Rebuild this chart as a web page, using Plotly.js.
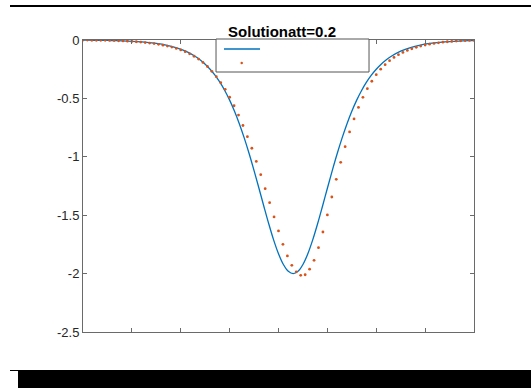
<!DOCTYPE html>
<html>
<head>
<meta charset="utf-8">
<script src="https://cdn.plot.ly/plotly-3.0.1.min.js"></script>
<style>
body{margin:0;background:#fff}
#wrap{position:relative;width:531px;height:388px;overflow:hidden}
.bar{position:absolute;background:#000}
</style>
</head>
<body>
<div id="wrap">
<div id="chart" style="width:531px;height:388px"></div>
<div class="bar" style="left:10px;top:5px;width:521px;height:2px"></div>
<div class="bar" style="left:10px;top:370px;width:521px;height:1px"></div>
<div class="bar" style="left:18px;top:371px;width:513px;height:17px"></div>
</div>
<script>
// exact solution (solid blue line)
const exactX = [0,0.1,0.3,0.5,0.7,0.9,1.1,1.3,1.5,1.7,1.9,2.1,2.3,2.4,2.5,2.6,2.7,2.8,2.9,3.0,3.1,3.2,3.3,3.4,3.5,3.6,3.7,3.8,3.9,4.0,4.1,4.2,4.3,4.4,4.5,4.6,4.7,4.8,4.9,5.0,5.1,5.2,5.3,5.4,5.5,5.6,5.7,5.8,5.9,6.0,6.1,6.2,6.3,6.5,6.7,6.9,7.1,7.3,7.5,7.7,7.9,8.0];
const exactY = [-0.0015,-0.0018,-0.0027,-0.0040,-0.0060,-0.0089,-0.0132,-0.0197,-0.0294,-0.0436,-0.0648,-0.0959,-0.1413,-0.1712,-0.2071,-0.2500,-0.3011,-0.3614,-0.4323,-0.5149,-0.6100,-0.7184,-0.8399,-0.9738,-1.1181,-1.2695,-1.4232,-1.5729,-1.7113,-1.8303,-1.9221,-1.9801,-2.0,-1.9801,-1.9221,-1.8303,-1.7113,-1.5729,-1.4232,-1.2695,-1.1181,-0.9738,-0.8399,-0.7184,-0.6100,-0.5149,-0.4323,-0.3614,-0.3011,-0.2500,-0.2071,-0.1712,-0.1413,-0.0959,-0.0648,-0.0436,-0.0294,-0.0197,-0.0132,-0.0089,-0.0060,-0.0049];

// numerical solution (orange dots)
const numX = [0,0.0909,0.1818,0.2727,0.3636,0.4545,0.5455,0.6364,0.7273,0.8182,0.9091,
1,1.0909,1.1818,1.2727,1.3636,1.4545,1.5455,1.6364,1.7273,1.8182,1.9091,
2,2.0909,2.1818,2.2727,2.3636,2.4545,2.5455,2.6364,2.7273,2.8182,2.9091,
3,3.0909,3.1818,3.2727,3.3636,3.4545,3.5455,3.6364,3.7273,3.8182,3.9091,
4,4.0909,4.1818,4.2727,4.3636,4.4545,4.5455,4.6364,4.7273,4.8182,4.9091,
5,5.0909,5.1818,5.2727,5.3636,5.4545,5.5455,5.6364,5.7273,5.8182,5.9091,
6,6.0909,6.1818,6.2727,6.3636,6.4545,6.5455,6.6364,6.7273,6.8182,6.9091,
7,7.0909,7.1818,7.2727,7.3636,7.4545,7.5455,7.6364,7.7273,7.8182,7.9091,
8];
const numY = [-0.001,-0.001,-0.002,-0.002,-0.003,-0.003,-0.004,-0.005,-0.007,-0.008,-0.010,
-0.012,-0.015,-0.018,-0.022,-0.026,-0.031,-0.037,-0.044,-0.052,-0.061,-0.072,
-0.085,-0.100,-0.118,-0.139,-0.163,-0.192,-0.227,-0.268,-0.314,-0.365,-0.422,
-0.490,-0.563,-0.643,-0.732,-0.828,-0.927,-1.040,-1.153,-1.273,-1.393,-1.515,
-1.635,-1.749,-1.849,-1.929,-1.985,-2.015,-2.010,-1.962,-1.886,-1.778,-1.644,
-1.498,-1.344,-1.193,-1.047,-0.913,-0.787,-0.676,-0.577,-0.491,-0.417,-0.353,
-0.297,-0.250,-0.211,-0.177,-0.149,-0.126,-0.106,-0.089,-0.075,-0.063,-0.052,
-0.043,-0.036,-0.029,-0.024,-0.019,-0.015,-0.012,-0.009,-0.007,-0.005,-0.004,
-0.003];

const xTicks = [0,1,2,3,4,5,6,7,8];
const yTicks = [0,-0.5,-1,-1.5,-2,-2.5];
const yTickText = ['0','-0.5','-1','-1.5','-2','-2.5'];
const titleText = 'Solutionatt=0.2';

const blue = '#0072BD', red = '#D95319', axc = '#6a6a6a';

const traces = [
  {x: exactX, y: exactY, type:'scatter', mode:'lines', line:{color:blue, width:1.3, shape:'spline'}, hoverinfo:'skip'},
  {x: numX, y: numY, type:'scatter', mode:'markers', marker:{color:red, size:2.8, line:{width:0}}, hoverinfo:'skip'}
];

// legend box geometry (paper coords)
const L = {x0:0.3402, x1:0.7315, y0:0.8904, y1:1.0034};
const layout = {
  width:531, height:388,
  margin:{l:83, r:57, t:40, b:56},
  paper_bgcolor:'#fff', plot_bgcolor:'#fff',
  showlegend:false,
  font:{family:'Liberation Sans, Arial, sans-serif', size:13, color:'#262626'},
  title:{text:titleText, font:{family:'Liberation Sans, Arial, sans-serif', size:15, color:'#000', weight:'bold'},
         x:0.509, xref:'paper', xanchor:'center', y:0.9175, yref:'container', yanchor:'middle'},
  xaxis:{range:[0,8], tickvals:xTicks, showticklabels:false, ticks:'inside', ticklen:4, tickwidth:1, tickcolor:axc,
         showline:true, linecolor:axc, linewidth:1, mirror:'ticks', showgrid:false, zeroline:false, fixedrange:true},
  yaxis:{range:[-2.5,0], tickvals:yTicks, ticktext:yTickText, ticks:'inside', ticklen:4, tickwidth:1, tickcolor:axc,
         showline:true, linecolor:axc, linewidth:1, mirror:'ticks', showgrid:false, zeroline:false, fixedrange:true,
         ticklabelshift:2.5, tickfont:{size:13, color:'#262626'}},
  shapes:[
    {type:'rect', xref:'paper', yref:'paper', x0:L.x0, x1:L.x1, y0:L.y0, y1:L.y1, fillcolor:'#fff', line:{color:'#555', width:1}, layer:'above'},
    {type:'line', xref:'paper', yref:'paper', x0:0.3606, x1:0.4527, y0:0.9692, y1:0.9692, line:{color:blue, width:1.3}, layer:'above'},
    {type:'circle', xref:'paper', yref:'paper', x0:0.4059-0.0032, x1:0.4059+0.0032, y0:0.9212-0.0043, y1:0.9212+0.0043, fillcolor:red, line:{width:0}, layer:'above'}
  ]
};
Plotly.newPlot('chart', traces, layout, {staticPlot:true, displayModeBar:false});
</script>
</body>
</html>
